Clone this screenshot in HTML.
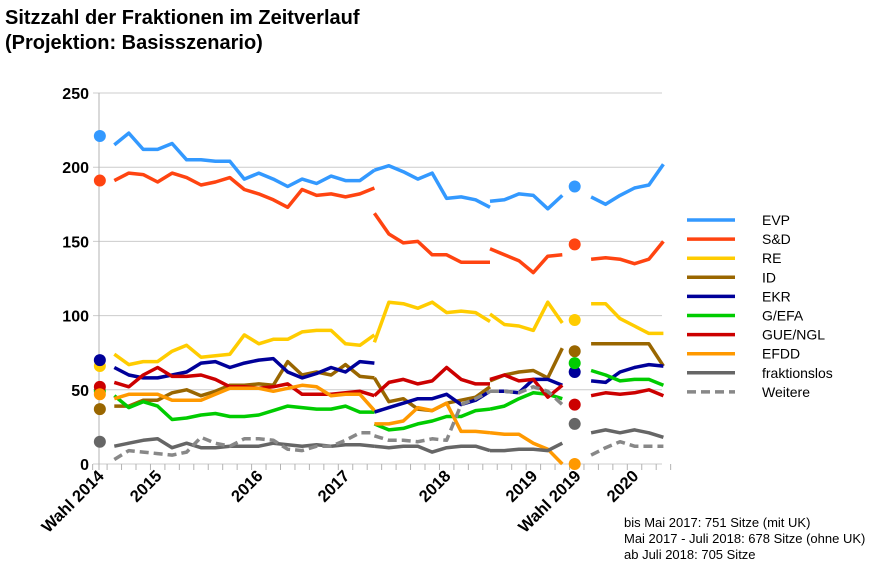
<!DOCTYPE html>
<html><head><meta charset="utf-8"><style>
body{margin:0;background:#fff;font-family:"Liberation Sans",sans-serif;}
#wrap{position:relative;width:878px;height:570px;overflow:hidden;}
.t{position:absolute;left:5px;font-weight:bold;font-size:20px;color:#000;}
.fn{position:absolute;left:624px;font-size:13px;color:#000;}
</style></head><body>
<div id="wrap">
<div class="t" style="top:7px">Sitzzahl der Fraktionen im Zeitverlauf</div>
<div class="t" style="top:32px">(Projektion: Basisszenario)</div>
<div class="fn" style="top:515px">bis Mai 2017: 751 Sitze (mit UK)</div>
<div class="fn" style="top:531px">Mai 2017 - Juli 2018: 678 Sitze (ohne UK)</div>
<div class="fn" style="top:547px">ab Juli 2018: 705 Sitze</div>
<svg id="svg" width="878" height="570" style="position:absolute;left:0;top:0"></svg>
</div>
<script>
const yTicks=[0,50,100,150,200,250];
const xLabels=["Wahl 2014","2015","2016","2017","2018","2019","Wahl 2019","2020"];
const xLabelIdx=[-1,3,10,16,23,29,32,36];
const parties=["EVP","S&D","RE","ID","EKR","G/EFA","GUE/NGL","EFDD","fraktionslos","Weitere"];
const colors=["#3399ff","#ff4411","#ffcc00","#996600","#000099","#00cc00","#cc0000","#ff9900","#666666","#888888"];
const seg1=[
[215,223,212,212,216,205,205,204,204,192,196,192,187,192,189,194,191,191,198],
[191,196,195,190,196,193,188,190,193,185,182,178,173,185,181,182,180,182,186],
[74,67,69,69,76,80,72,73,74,87,81,84,84,89,90,90,81,80,87],
[39,39,43,43,48,50,46,49,53,53,54,53,69,60,62,60,67,59,58],
[65,60,58,58,60,62,68,69,65,68,70,71,62,58,61,65,62,69,68],
[46,38,42,39,30,31,33,34,32,32,33,36,39,38,37,37,39,35,35],
[55,52,60,65,59,59,60,57,52,52,51,52,54,47,47,47,48,49,46],
[44,47,47,47,43,43,43,47,51,51,51,49,51,53,52,46,47,47,36],
[12,14,16,17,11,14,11,11,12,12,12,14,13,12,13,12,13,13,12],
[3,9,8,7,6,8,18,14,12,17,17,16,10,9,12,12,16,21,21]];
const seg2=[
[198,201,197,192,196,179,180,178,173],
[169,155,149,150,141,141,136,136,136],
[82,109,108,105,109,102,103,102,96],
[58,42,44,37,36,41,43,45,52],
[35,38,41,44,44,47,40,43,49],
[27,23,24,27,29,32,32,36,37],
[46,55,57,54,56,65,57,54,54],
[27,27,29,38,36,41,22,22,21],
[12,11,12,12,8,11,12,12,9],
[19,16,16,15,17,16,40,44,49]];
const seg3=[
[177,178,182,181,172,181],
[145,141,137,129,140,141],
[101,94,93,90,109,95],
[56,60,62,63,58,78],
[49,49,48,57,57,53],
[37,39,44,48,47,44],
[57,60,56,57,45,53],
[21,20,20,14,10,0],
[9,9,10,10,9,14],
[49,49,48,52,49,40]];
const seg4=[
[180,175,181,186,188,202],
[138,139,138,135,138,150],
[108,108,98,93,88,88],
[81,81,81,81,81,66],
[56,55,62,65,67,66],
[63,60,56,57,57,53],
[46,48,47,48,50,46],
[null,null,null,null,null,null],
[21,23,21,23,21,18],
[6,11,15,12,12,12]];
const dot2014=[221,191,66,37,70,49,52,47,15,null];
const dot2019=[187,148,97,76,62,68,40,0,27,null];

const NS="http://www.w3.org/2000/svg";
const svg=document.getElementById('svg');
const X=i=>114.3+14.45*i;
const Y=v=>464-v*1.484;
function mk(t,a){const e=document.createElementNS(NS,t);for(const k in a)e.setAttribute(k,a[k]);svg.appendChild(e);return e;}
yTicks.forEach(v=>{
  const g=mk('line',{x1:93,x2:662,y1:Y(v),y2:Y(v),stroke:'#cccccc','stroke-width':1});
  
  
  const t=mk('text',{x:89,y:Y(v)+6,'text-anchor':'end','font-size':16,'font-weight':'bold','font-family':'Liberation Sans, sans-serif'});
  t.textContent=v;
  
  
});
const ax=mk('line',{x1:99,x2:99,y1:93,y2:470,stroke:'#b3b3b3','stroke-width':1});


for(let i=-1;i<=39;i++){
  const tk=mk('line',{x1:X(i)-7.2,x2:X(i)-7.2,y1:464,y2:470,stroke:'#b3b3b3','stroke-width':1});
  
  
}
xLabels.forEach((l,k)=>{
  const x=X(xLabelIdx[k])+5,y=477;
  const t=mk('text',{x:x,y:y,'text-anchor':'end','font-size':16.5,'font-weight':'bold','font-family':'Liberation Sans, sans-serif',transform:`rotate(-45 ${x} ${y})`});
  t.textContent=l;
  
  
});
function drawSeg(arr,start,p){
  let pts=[];
  arr.forEach((v,j)=>{if(v!==null)pts.push(X(start+j).toFixed(1)+','+Y(v).toFixed(1));});
  if(pts.length<2)return;
  const a={points:pts.join(' '),fill:'none',stroke:colors[p],'stroke-width':3.5,'stroke-linejoin':'round'};
  if(p===9)a['stroke-dasharray']='9,5';
  const l=mk('polyline',a);
  
  
}
parties.forEach((n,p)=>{
  drawSeg(seg1[p],0,p);drawSeg(seg2[p],18,p);drawSeg(seg3[p],26,p);drawSeg(seg4[p],33,p);
});
parties.forEach((n,p)=>{
  if(dot2014[p]!==null){const c=mk('circle',{cx:X(-1),cy:Y(dot2014[p]),r:6,fill:colors[p]});
    
    }
  if(dot2019[p]!==null){const c=mk('circle',{cx:X(32)-2,cy:Y(dot2019[p]),r:6,fill:colors[p]});
    
    }
});
parties.forEach((n,p)=>{
  const y=220+p*19.1;
  const a={x1:687,x2:735,y1:y,y2:y,stroke:colors[p],'stroke-width':3.5};
  if(p===9)a['stroke-dasharray']='9,5';
  const l=mk('line',a);
  
  
  const t=mk('text',{x:762,y:y+5,'font-size':14,'font-family':'Liberation Sans, sans-serif'});
  t.textContent=n;
  
  
});
</script>
</body></html>
